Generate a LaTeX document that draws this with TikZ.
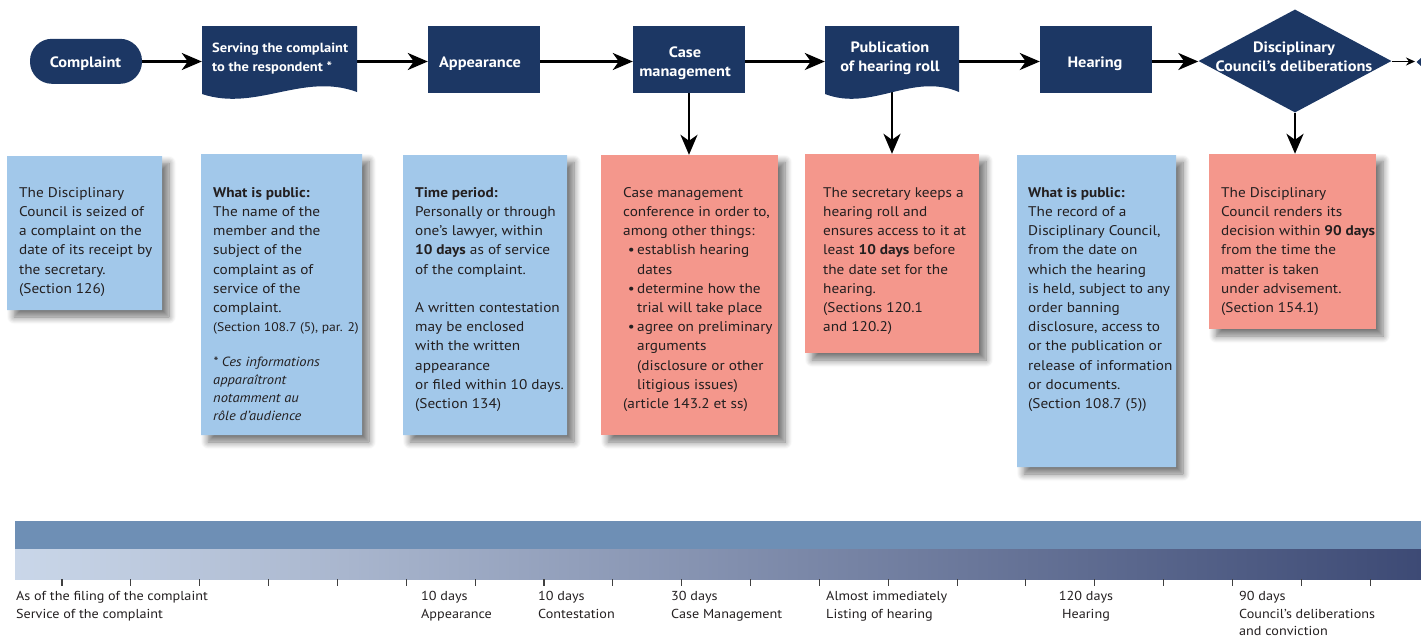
\documentclass[tikz,border=0pt]{standalone}
\usepackage{fontspec}
\setmainfont[FakeStretch=1.09]{PT Sans}
\usetikzlibrary{arrows.meta,shapes.geometric,shapes.misc,shadows.blur}
\definecolor{navy}{HTML}{1C3764}
\definecolor{noteblue}{HTML}{A2C8EA}
\definecolor{notepink}{HTML}{F4978C}
\definecolor{bandtop}{HTML}{6E8FB5}
\definecolor{gradL}{HTML}{CAD7E9}
\definecolor{gradM}{HTML}{8789A8}
\definecolor{gradR}{HTML}{3D4A75}
\definecolor{txt}{HTML}{231F20}
\pgfdeclarelayer{bg}
\pgfsetlayers{bg,main}
\newcommand\bul{\makebox[14pt][r]{\textbullet\hspace{2.5pt}}}
\newcommand\ind{\hspace*{14pt}}
\begin{document}
\begin{tikzpicture}[x=1pt,y=-1pt,
  stage/.style={fill=navy, inner sep=0pt},
  rectstage/.style={stage, minimum width=112pt, minimum height=67pt},
  stagelabel/.style={text=white, font=\bfseries\fontsize{15}{19}\selectfont, inner sep=0pt, align=center},
  flow/.style={line width=2.6pt, -{Stealth[length=20pt,width=17pt,inset=6pt]}},
  thinflow/.style={line width=1.6pt, -{Stealth[length=9pt,width=8pt,inset=3pt]}},
  shadowed/.style={blur shadow={shadow xshift=7pt, shadow yshift=-7pt, shadow blur radius=7pt, shadow blur steps=8, shadow opacity=55}},
  note/.style={inner sep=0pt, shadowed},
  bluenote/.style={note, fill=noteblue, chamfered rectangle, chamfered rectangle corners=north west, chamfered rectangle xsep=27pt, chamfered rectangle ysep=27pt},
  pinknote/.style={note, fill=notepink, rectangle},
  notetext/.style={anchor=north west, align=left, inner sep=0pt, text=txt, font=\fontsize{14}{19.2}\selectfont},
  ticks/.style={line width=1.1pt, draw=black!75},
  tltext/.style={anchor=north west, align=left, inner sep=0pt, text=txt, font=\fontsize{13}{17.6}\selectfont}
]
\useasboundingbox (0,0) rectangle (1421,638);
\coordinate (row) at (0,61.5);

% ---------- top row ----------
\node[stage, rounded corners=22pt, minimum width=112pt, minimum height=45pt] (comp) at (86,61.3) {};
\node[stagelabel] (complbl) at (85.5,63.3) {Complaint};

\fill[navy] (202,26) -- (357,26) -- (357,92) .. controls (303,72) and (256,112) .. (202,94) -- cycle;
\node[inner sep=0pt, minimum width=155pt, minimum height=70pt] (serve) at (279.5,61) {};
\node[anchor=west, align=left, inner sep=0pt, text=white, font=\bfseries\fontsize{13.3}{19}\selectfont] (servetxt) at (212,58.2) {Serving the complaint\\to the respondent *};

\node[rectstage] (appear) at (484,59.5) {};
\node[stagelabel] (appearlbl) at (480,63.6) {Appearance};
\node[rectstage] (case) at (689,59.5) {};
\node[stagelabel] (caselbl) at (685,63) {Case\\management};

\fill[navy] (825,26) -- (959,26) -- (959,92) .. controls (912,72) and (872,112) .. (825,94) -- cycle;
\node[inner sep=0pt, minimum width=134pt, minimum height=70pt] (pub) at (892,61) {};
\node[stagelabel] (pubtxt) at (890,58) {Publication\\of hearing roll};

\node[rectstage] (hear) at (1096,59.5) {};
\node[stagelabel] (hearlbl) at (1095,63.6) {Hearing};

\node[stage, diamond, minimum width=193pt, minimum height=103pt] (delib) at (1295,61) {};
\node[stagelabel] (delibtxt) at (1294,56.5) {Disciplinary\\Council’s deliberations};

\coordinate (nextc) at (1415,61.5);
\fill[navy] (1416.5,62) -- (1421,58) -- (1421,66) -- cycle;

% ---------- notes ----------
\node[bluenote, minimum width=155pt, minimum height=154pt] (n1) at (84.5,233) {};
\node[bluenote, minimum width=161pt, minimum height=281pt] (n2) at (281.5,294.5) {};
\node[bluenote, minimum width=164pt, minimum height=280pt] (n3) at (485,295) {};
\node[pinknote, minimum width=177pt, minimum height=280pt] (n4) at (689.5,295) {};
\node[pinknote, minimum width=174pt, minimum height=199pt] (n5) at (892,253.5) {};
\node[bluenote, minimum width=159pt, minimum height=312pt] (n6) at (1096.5,311) {};
\node[pinknote, minimum width=167pt, minimum height=175pt] (n7) at (1292.5,241.5) {};

\node[notetext] (t1) at (19,183.6) {\strut The Disciplinary\\Council is seized of\\a complaint on the\\date of its receipt by\\the secretary.\\(Section 126)};

\node[notetext] (t2) at (213,183.6) {\strut\textbf{What is public:}\\The name of the\\member and the\\subject of the\\complaint as of\\service of the\\complaint.\\{\fontsize{12.5}{19.2}\selectfont(Section 108.7 (5), par. 2)}};
\node[notetext, font=\itshape\fontsize{13.3}{18}\selectfont] (t2b) at (213,353.4) {\strut* Ces informations\\apparaîtront\\notamment au\\rôle d’audience};

\node[notetext] (t3) at (415,183.6) {\strut\textbf{Time period:}\\Personally or through\\one’s lawyer, within\\\textbf{10 days} as of service\\of the complaint.\\[19.2pt]A written contestation\\may be enclosed\\with the written\\appearance\\or filed within 10 days.\\(Section 134)};

\node[notetext] (t4) at (623,183.6) {\strut Case management\\conference in order to,\\among other things:\\\bul establish hearing\\\ind dates\\\bul determine how the\\\ind trial will take place\\\bul agree on preliminary\\\ind arguments\\\ind (disclosure or other\\\ind litigious issues)\\(article 143.2 et ss)};

\node[notetext] (t5) at (823,183.6) {\strut The secretary keeps a\\hearing roll and\\ensures access to it at\\least \textbf{10 days} before\\the date set for the\\hearing.\\(Sections 120.1\\and 120.2)};

\node[notetext] (t6) at (1028,183.6) {\strut\textbf{What is public:}\\The record of a\\Disciplinary Council,\\from the date on\\which the hearing\\is held, subject to any\\order banning\\disclosure, access to\\or the publication or\\release of information\\or documents.\\(Section 108.7 (5))};

\node[notetext] (t7) at (1221,183.6) {\strut The Disciplinary\\Council renders its\\decision within \textbf{90 days}\\from the time the\\matter is taken\\under advisement.\\(Section 154.1)};

% ---------- connectors ----------
\begin{pgfonlayer}{bg}
\draw[flow] (comp.east |- row) -- (serve.west |- row);
\draw[flow] (serve.east |- row) -- (appear.west |- row);
\draw[flow] (appear.east |- row) -- (case.west |- row);
\draw[flow] (case.east |- row) -- (pub.west |- row);
\draw[flow] (pub.east |- row) -- (hear.west |- row);
\draw[flow] (hear.east |- row) -- (delib.west |- row);
\draw[thinflow] (delib.east |- row) -- (nextc);
\draw[flow] (case.south) -- (case.south |- n4.north);
\draw[flow] (pub.center) -- (pub.center |- n5.north);
\draw[flow] (delib.south) -- (delib.south |- n7.north);
\end{pgfonlayer}

% ---------- timeline ----------
\fill[bandtop] (15,521) rectangle (1421,549);
\shade[left color=gradL, middle color=gradM, right color=gradR] (15,549) rectangle (1421,579);
\foreach \i in {0,...,19} \draw[ticks] ({62+68.85*\i},579) -- ++(0,7);

\node[tltext] (l1) at (16,588.2) {\strut As of the filing of the complaint\\Service of the complaint};
\node[tltext] (l2) at (421,588.2) {\strut 10 days\\Appearance};
\node[tltext] (l3) at (538,588.2) {\strut 10 days\\Contestation};
\node[tltext] (l4) at (671,588.2) {\strut 30 days\\Case Management};
\node[tltext] (l5) at (826,588.2) {\strut Almost immediately\\Listing of hearing};
\node[tltext, anchor=north, align=center] (l6) at (1086,588.2) {\strut 120 days\\Hearing};
\node[tltext] (l7) at (1239,588.2) {\strut 90 days\\Council’s deliberations\\and conviction};
\end{tikzpicture}
\end{document}
